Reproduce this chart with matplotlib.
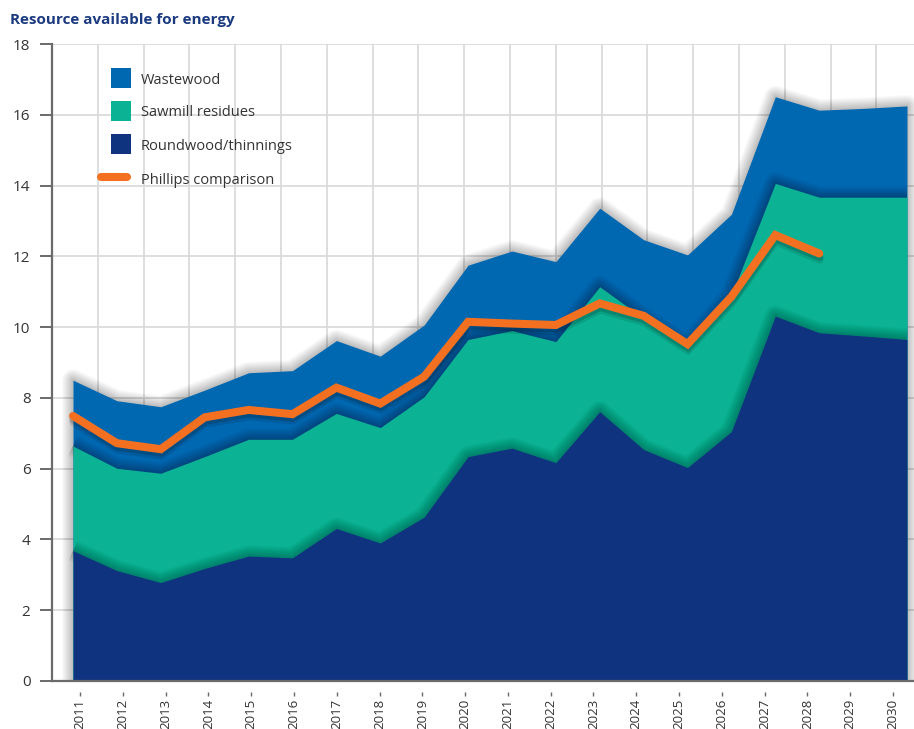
import numpy as np
import matplotlib
matplotlib.use('Agg')
import matplotlib.pyplot as plt
import matplotlib.patheffects as pe
from matplotlib.patches import Rectangle
from matplotlib.lines import Line2D

plt.rcParams['font.family'] = ['Open Sans', 'DejaVu Sans']

years = np.arange(2011, 2031)
roundwood = [3.68, 3.12, 2.78, 3.18, 3.53, 3.48, 4.31, 3.90, 4.63, 6.34,
             6.58, 6.17, 7.61, 6.54, 6.03, 7.05, 10.31, 9.84, 9.75, 9.65]
sawmill = [2.96, 2.89, 3.09, 3.16, 3.30, 3.35, 3.25, 3.26, 3.40, 3.31,
           3.32, 3.42, 3.53, 3.71, 3.42, 3.85, 3.75, 3.83, 3.92, 4.02]
wastewood = [1.86, 1.91, 1.88, 1.88, 1.88, 1.94, 2.06, 2.02, 2.03, 2.10,
             2.25, 2.26, 2.22, 2.22, 2.59, 2.29, 2.45, 2.46, 2.51, 2.58]
phillips_years = np.arange(2011, 2029)
phillips = [7.49, 6.72, 6.55, 7.45, 7.66, 7.54, 8.29, 7.84, 8.60, 10.15,
            10.10, 10.06, 10.67, 10.32, 9.52, 10.86, 12.60, 12.08]

c_waste = '#0067b1'
c_saw = '#0bb394'
c_round = '#10337f'
c_phil = '#f37021'
c_text = '#333333'
c_axis = '#6a6a6a'
c_grid = '#d8d8d8'

W, H = 914, 729
fig = plt.figure(figsize=(W / 100, H / 100), dpi=100)
ax = fig.add_axes([52 / W, 1 - 681 / H, 862 / W, 637 / H])

ax.set_xlim(2011 - 21 / 43.895, 2030 + 7 / 43.895)
ax.set_ylim(0, 18)

# grid
for yv in range(2, 19, 2):
    ax.axhline(yv, color=c_grid, lw=1.2, zorder=0.5)
step = 45.8 / 862
ax.vlines(np.arange(step, 1.0, step), 0, 1, transform=ax.transAxes,
          color=c_grid, lw=1.2, zorder=0.5)

r = np.array(roundwood)
s = r + np.array(sawmill)
t = s + np.array(wastewood)


def soft_shadow(xs, ys, z, closed=False):
    # stack of faint wide strokes -> blurred edge shadow
    if closed:
        xs = np.concatenate([[xs[0]], xs, [xs[-1]]])
        ys = np.concatenate([[0], ys, [0]])
    for w in np.linspace(1, 16, 16):
        ax.plot(xs, ys, color='black', alpha=0.016, lw=w,
                solid_joinstyle='round', solid_capstyle='butt', zorder=z)


soft_shadow(years, t, 1.9, closed=True)
ax.fill_between(years, 0, t, color=c_waste, lw=0, zorder=2)
soft_shadow(years, s, 2.9)
ax.fill_between(years, 0, s, color=c_saw, lw=0, zorder=3)
soft_shadow(years, r, 3.9)
ax.fill_between(years, 0, r, color=c_round, lw=0, zorder=4)

ax.plot(phillips_years, phillips, color=c_phil, lw=5.8, zorder=6,
        solid_capstyle='round', solid_joinstyle='miter',
        path_effects=[pe.SimpleLineShadow(offset=(0.3, -2.5), shadow_color='black', alpha=0.16),
                      pe.SimpleLineShadow(offset=(0.3, -4.5), shadow_color='black', alpha=0.10),
                      pe.Normal()])

# axes styling
for side in ['top', 'right']:
    ax.spines[side].set_visible(False)
for side in ['left', 'bottom']:
    ax.spines[side].set_color(c_axis)
    ax.spines[side].set_linewidth(1.6)
    ax.spines[side].set_zorder(10)
ax.set_yticks(range(0, 19, 2))
ax.tick_params(axis='y', length=8.5, width=1.4, color=c_axis, pad=7,
               labelsize=11, labelcolor=c_text)
ax.set_xticks([])

# year labels on their own axis
ax2 = ax.twiny()
ax2.set_xlim(2011 - 28 / 42.79, 2011 + 834 / 42.79)
ax2.xaxis.set_ticks_position('bottom')
ax2.xaxis.set_label_position('bottom')
ax2.spines['bottom'].set_position(('outward', 8))
for side in ax2.spines:
    ax2.spines[side].set_visible(False)
ax2.set_xticks(years)
ax2.set_xticklabels([str(y) for y in years], rotation=90)
ax2.tick_params(axis='x', length=3, width=1, color=c_axis, pad=2,
                labelsize=9.5, labelcolor=c_text)

fig.text(10 / W, 1 - 20 / H, 'Resource available for energy', fontsize=11,
         fontweight='bold', color='#1b3a80', va='center', ha='left')


def fx(x):
    return x / W


def fy(y):
    return 1 - y / H


legend_items = [('Wastewood', c_waste, 78), ('Sawmill residues', c_saw, 111),
                ('Roundwood/thinnings', c_round, 144)]
for label, col, yc in legend_items:
    fig.add_artist(Rectangle((fx(111), fy(yc + 10)), 20 / W, 20 / H,
                             transform=fig.transFigure, color=col, lw=0))
    fig.text(fx(141), fy(yc + 2), label, fontsize=10.5, color=c_text,
             va='center', ha='left')
fig.add_artist(Line2D([fx(101), fx(127)], [fy(177), fy(177)], transform=fig.transFigure,
                      color=c_phil, lw=5.8, solid_capstyle='round'))
fig.text(fx(141), fy(180), 'Phillips comparison', fontsize=10.5, color=c_text,
         va='center', ha='left')

fig.savefig('out.png', dpi=100)
